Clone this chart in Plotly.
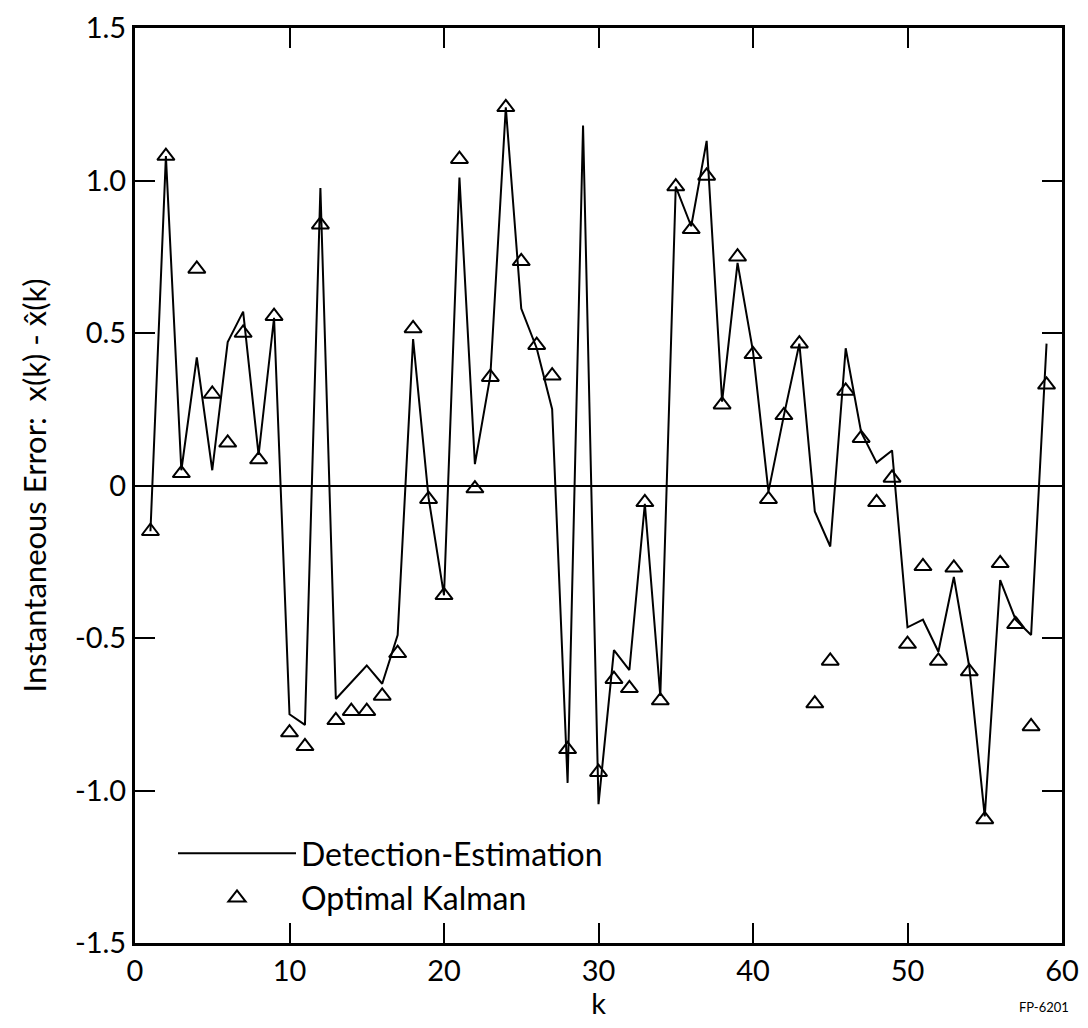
import plotly.graph_objects as go

k_values = list(range(1, 60))

detection_estimation = [
    -0.15, 1.08, 0.05, 0.42, 0.05, 0.47, 0.57, 0.10, 0.55, -0.75,
    -0.785, 0.975, -0.70, -0.645, -0.59, -0.65, -0.49, 0.48, -0.04, -0.36,
    1.01, 0.07, 0.36, 1.24, 0.58, 0.45, 0.25, -0.975, 1.18, -1.045,
    -0.54, -0.605, -0.06, -0.69, 0.98, 0.85, 1.13, 0.275, 0.73, 0.44,
    -0.02, 0.23, 0.465, -0.085, -0.20, 0.45, 0.175, 0.075, 0.115, -0.465,
    -0.44, -0.545, -0.30, -0.595, -1.085, -0.31, -0.44, -0.49, 0.465,
]

optimal_kalman = [
    -0.15, 1.08, 0.04, 0.71, 0.30, 0.14, 0.50, 0.085, 0.555, -0.81,
    -0.855, 0.855, -0.77, -0.74, -0.74, -0.69, -0.55, 0.515, -0.045, -0.36,
    1.07, -0.01, 0.355, 1.24, 0.735, 0.46, 0.36, -0.865, None, -0.94,
    -0.635, -0.665, -0.055, -0.705, 0.98, 0.84, 1.015, 0.265, 0.75, 0.43,
    -0.045, 0.23, 0.465, -0.715, -0.575, 0.31, 0.155, -0.055, 0.025, -0.52,
    -0.265, -0.575, -0.27, -0.61, -1.095, -0.255, -0.455, -0.79, 0.33,
]

x_ticks = [0, 10, 20, 30, 40, 50, 60]
y_ticks = [-1.5, -1.0, -0.5, 0, 0.5, 1.0, 1.5]
y_tick_labels = ["-1.5", "-1.0", "-0.5", "0", "0.5", "1.0", "1.5"]

FONT = "Lato, 'Open Sans', sans-serif"

fig = go.Figure()
fig.add_trace(go.Scatter(
    x=k_values, y=detection_estimation, mode="lines",
    name="Detection-Estimation",
    line=dict(color="black", width=2),
))
fig.add_trace(go.Scatter(
    x=k_values, y=optimal_kalman, mode="markers",
    name="Optimal Kalman",
    marker=dict(symbol="triangle-up-open", size=15, color="black",
                line=dict(width=2, color="black")),
))

axis_common = dict(
    showgrid=False, showline=True, linecolor="black", linewidth=3,
    mirror="ticks", ticks="inside", ticklen=20, tickwidth=2, tickcolor="black",
    tickfont=dict(family=FONT, size=29, color="black"),
    ticklabeloverflow="allow", automargin=False,
)

fig.update_xaxes(
    range=[0, 60], tickvals=x_ticks, zeroline=False,
    title=dict(text="k", font=dict(family=FONT, size=29, color="black"), standoff=3),
    **axis_common,
)
fig.update_yaxes(
    range=[-1.5, 1.5], tickvals=y_ticks, ticktext=y_tick_labels,
    zeroline=True, zerolinecolor="black", zerolinewidth=2,
    title=dict(text="Instantaneous Error:  x(k) - x\u0302(k)",
               font=dict(family=FONT, size=31, color="black"), standoff=20),
    **axis_common,
)

fig.update_layout(
    width=1072, height=1012,
    margin=dict(l=127, r=18, t=20, b=77),
    paper_bgcolor="white", plot_bgcolor="white",
    font=dict(family=FONT, color="black"),
    legend=dict(
        x=0.041, y=0.128, xanchor="left", yanchor="top",
        bgcolor="rgba(0,0,0,0)", font=dict(family=FONT, size=32, color="black"),
        itemwidth=118, tracegroupgap=0,
    ),
    annotations=[dict(
        text="FP-6201", xref="paper", yref="paper", x=1.01, y=-0.07,
        xanchor="right", yanchor="middle", showarrow=False,
        font=dict(family=FONT, size=13, color="black"),
    )],
)

fig.write_html("out.html")
